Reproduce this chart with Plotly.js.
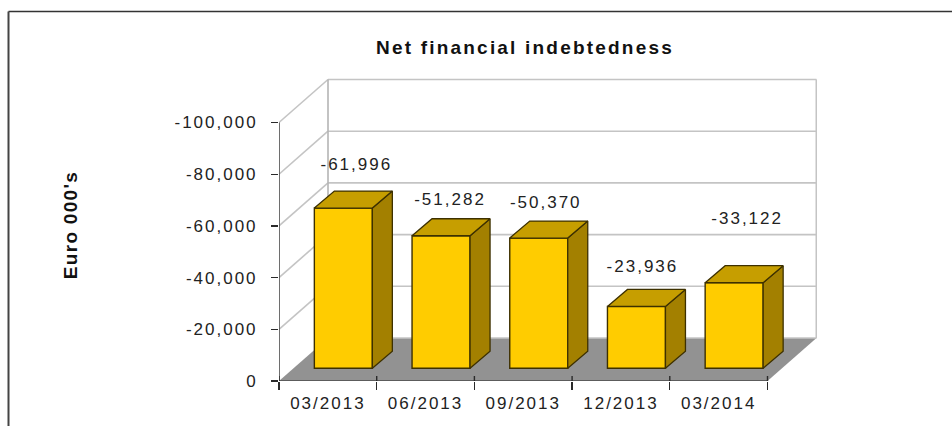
<!DOCTYPE html>
<html>
<head>
<meta charset="utf-8">
<script src="https://cdn.plot.ly/plotly-3.0.1.min.js"></script>
<style>
html,body{margin:0;padding:0;background:#fff;overflow:hidden}
#chart{width:952px;height:426px}
.xtick text,.ytick text,.textpoint text{letter-spacing:2px}
.gtitle{letter-spacing:2.2px}
.ytitle{letter-spacing:1.3px}
</style>
</head>
<body>
<div id="chart"></div>
<script>
const categories = ['03/2013','06/2013','09/2013','12/2013','03/2014'];
const values = [-61996,-51282,-50370,-23936,-33122];
const valueLabels = ['-61,996','-51,282','-50,370','-23,936','-33,122'];
const yTicks = [0,-20000,-40000,-60000,-80000,-100000];
const yTickLabels = ['0','-20,000','-40,000','-60,000','-80,000','-100,000'];
const labelNudgeX = [13,9,7,6,13];
const labelNudgeY = [42,35,34,39,63];

// pixel geometry of the pseudo-3D frame
const W=952,H=426,ML=279,MR=135,MT=69,MB=45;
const pxX=97.7, pxY=258.5/100000;
const X=px=>px/pxX, Y=px=>-px/pxY;
const plotW=W-ML-MR, plotH=H-MT-MB;
const xMin=-0.5, xMax=xMin+plotW/pxX, yTop=-plotH/pxY;
const wallDX=X(49), wallDY=Y(43), wallTop=-100000;
const xEnd=xMin+categories.length;
const shiftX=X(15.5), lift=Y(12.7), barW=X(58), depX=X(20), depY=Y(17);

const grid='#c4c4c4', ink='#2a2a2a', edge='#3d3000';
const shapes=[];
const line=(x0,y0,x1,y1,color,width)=>shapes.push({type:'line',layer:'below',xref:'x',yref:'y',x0,y0,x1,y1,line:{color,width}});
// floor
shapes.push({type:'path',layer:'below',xref:'x',yref:'y',
  path:`M ${xMin} 0 L ${xEnd} 0 L ${xEnd+wallDX} ${wallDY} L ${xMin+wallDX} ${wallDY} Z`,
  fillcolor:'#929292',line:{width:0}});
// wall gridlines and the slanted side-wall lines
yTicks.forEach(t=>{
  line(xMin+wallDX,t+wallDY,xEnd+wallDX,t+wallDY,grid,1.6);
  if(t!==0) line(xMin,t,xMin+wallDX,t+wallDY,grid,1.6);
});
line(xMin+wallDX,wallDY,xMin+wallDX,wallTop+wallDY,'#b4b4b4',1.6);
line(xEnd+wallDX,wallDY,xEnd+wallDX,wallTop+wallDY,grid,2);
// frame of the picture
const fx=p=>(p-ML)/plotW, fy=p=>1-(p-MT)/plotH;
shapes.push({type:'line',xref:'paper',yref:'paper',x0:fx(8.5),x1:fx(952),y0:fy(11.5),y1:fy(11.5),line:{color:'#333',width:1.6}});
shapes.push({type:'line',xref:'paper',yref:'paper',x0:fx(8.5),x1:fx(8.5),y0:fy(11.5),y1:fy(426),line:{color:'#444',width:2}});

const barX=categories.map((c,i)=>i+shiftX);
const traces=[{
  type:'bar',x:barX,y:values,base:categories.map(()=>lift),width:barW,
  marker:{color:'#ffcc00',line:{color:edge,width:1.4}},showlegend:false,hoverinfo:'skip'
}];
values.forEach((v,i)=>{
  const r=barX[i]+barW/2,l=barX[i]-barW/2,t=lift+v;
  traces.push({type:'scatter',mode:'lines',fill:'toself',fillcolor:'#a38000',line:{color:edge,width:1.3},hoverinfo:'skip',showlegend:false,
    x:[r,r+depX,r+depX,r,r],y:[lift,lift+depY,t+depY,t,lift]});
  traces.push({type:'scatter',mode:'lines',fill:'toself',fillcolor:'#c69e00',line:{color:edge,width:1.3},hoverinfo:'skip',showlegend:false,
    x:[l,r,r+depX,l+depX,l],y:[t,t,t+depY,t+depY,t]});
});
// axis lines and the upper part of the category ticks, unclipped
const rule=(x,y,color,width)=>traces.push({type:'scatter',mode:'lines',cliponaxis:false,x,y,line:{color,width},hoverinfo:'skip',showlegend:false});
rule([xMin,xEnd],[0,0],'#4a4a4a',1.6);
rule([xMin,xMin],[0,wallTop],'#4a4a4a',1.6);
for(let i=0;i<=categories.length;i++) rule([xMin+i,xMin+i],[0,Y(5)],ink,1.4);
traces.push({type:'scatter',mode:'text',cliponaxis:false,showlegend:false,hoverinfo:'skip',
  x:barX.map((x,i)=>x+X(labelNudgeX[i])),
  y:values.map((v,i)=>lift+v+Y(labelNudgeY[i])),
  text:valueLabels,textposition:'middle center',
  textfont:{family:'Liberation Sans, Arial, sans-serif',size:17,color:'#222'}});

const layout={
  width:W,height:H,margin:{l:ML,r:MR,t:MT,b:MB,pad:0},
  paper_bgcolor:'#fff',plot_bgcolor:'rgba(0,0,0,0)',showlegend:false,bargap:0,
  font:{family:'Liberation Sans, Arial, sans-serif',size:17,color:'#222'},
  title:{text:'<b>Net financial indebtedness</b>',font:{size:19,color:'#111'},
    xref:'container',yref:'container',x:525/W,xanchor:'center',y:1-47/H,yanchor:'middle'},
  xaxis:{type:'linear',range:[xMin,xMax],showgrid:false,zeroline:false,showline:false,
    tickmode:'array',tickvals:categories.map((c,i)=>i),ticktext:categories,ticks:'',ticklen:0,
    ticklabelstandoff:10,
    minor:{tickmode:'array',tickvals:categories.map((c,i)=>i-0.5).concat([xEnd]),ticks:'outside',ticklen:8,tickwidth:1.4,tickcolor:ink,showgrid:false}},
  yaxis:{range:[0,yTop],showgrid:false,zeroline:false,showline:false,
    tickmode:'array',tickvals:yTicks,ticktext:yTickLabels,ticks:'outside',ticklen:7,tickwidth:1.4,tickcolor:ink,
    ticklabelstandoff:10,
    title:{text:'<b>Euro 000\'s</b>',font:{size:19,color:'#111'},standoff:91}},
  shapes
};
Plotly.newPlot('chart',traces,layout,{displayModeBar:false,staticPlot:true});
</script>
</body>
</html>
